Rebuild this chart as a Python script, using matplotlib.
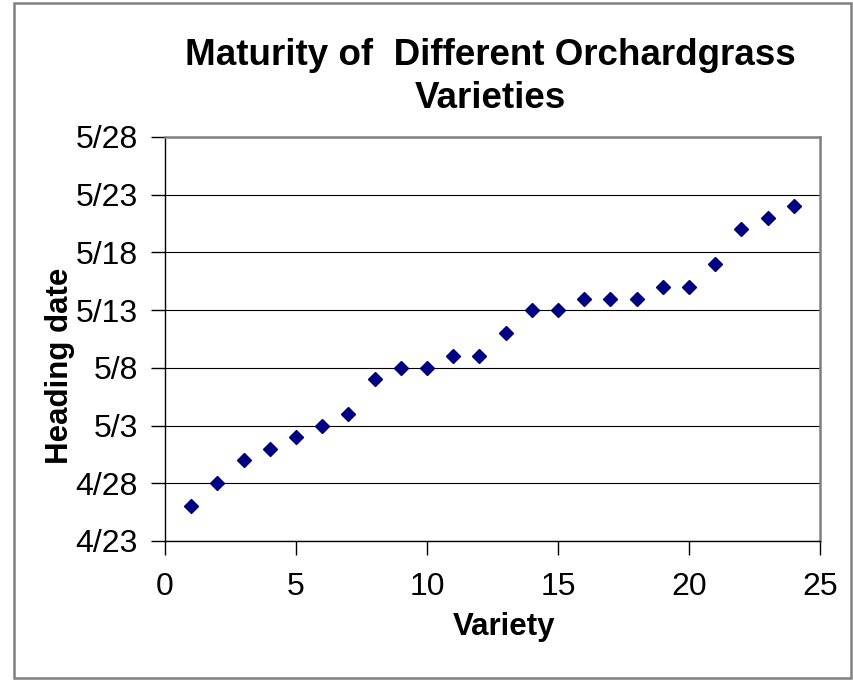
import datetime as dt
import matplotlib
matplotlib.use("Agg")
import matplotlib.pyplot as plt
from matplotlib.patches import Rectangle

plt.rcParams['font.family'] = ['Liberation Sans', 'DejaVu Sans']

# data
variety = list(range(1, 25))
heading = ['4/26', '4/28', '4/30', '5/1', '5/2', '5/3', '5/4', '5/7',
           '5/8', '5/8', '5/9', '5/9', '5/11', '5/13', '5/13', '5/14',
           '5/14', '5/14', '5/15', '5/15', '5/17', '5/20', '5/21', '5/22']
ytick_labels = ['4/23', '4/28', '5/3', '5/8', '5/13', '5/18', '5/23', '5/28']
xticks = [0, 5, 10, 15, 20, 25]
title_lines = ['Maturity of  Different Orchardgrass', 'Varieties']


def day(s):
    m, d = s.split('/')
    return dt.date(2000, int(m), int(d)).toordinal()


y = [day(s) for s in heading]
yt = [day(s) for s in ytick_labels]

fig = plt.figure(figsize=(8.54, 6.8), dpi=100)
ax = fig.add_axes([165 / 854, 1 - 541 / 680, 655 / 854, 404 / 680])

ax.plot(variety, y, 'D', color='#000080', ms=7.4, mec='#000080')

ax.set_xlim(0, 25)
ax.set_ylim(yt[0], yt[-1])
ax.set_xticks(xticks)
ax.set_yticks(yt)
ax.set_yticklabels(ytick_labels)
ax.tick_params(axis='both', labelsize=23, direction='out', length=10,
               width=1, color='black')
ax.tick_params(axis='y', pad=9.5)
ax.tick_params(axis='x', pad=12)
ax.grid(axis='y', color='black', lw=0.8)
ax.set_axisbelow(True)

for s in ['top', 'right']:
    ax.spines[s].set_color('#808080')
    ax.spines[s].set_linewidth(1.8)
for s in ['left', 'bottom']:
    ax.spines[s].set_color('black')
    ax.spines[s].set_linewidth(1)

# title, two lines placed by baseline
for line, base in zip(title_lines, [65, 108]):
    fig.text(490 / 854, 1 - base / 680, line, ha='center', va='baseline',
             fontsize=26.5, fontweight='bold')
fig.text(60 / 854, 1 - 366 / 680, 'Heading date', rotation=90, ha='center',
         va='center', fontsize=22.5, fontweight='bold')
fig.text(504 / 854, 1 - 627 / 680, 'Variety', ha='center', va='center',
         fontsize=22.5, fontweight='bold')

fig.patches.append(Rectangle((14 / 854, 2 / 680), 837 / 854, 675 / 680,
                             transform=fig.transFigure, fill=False,
                             edgecolor='#808080', lw=1.8))

fig.savefig('out.png', dpi=100)
